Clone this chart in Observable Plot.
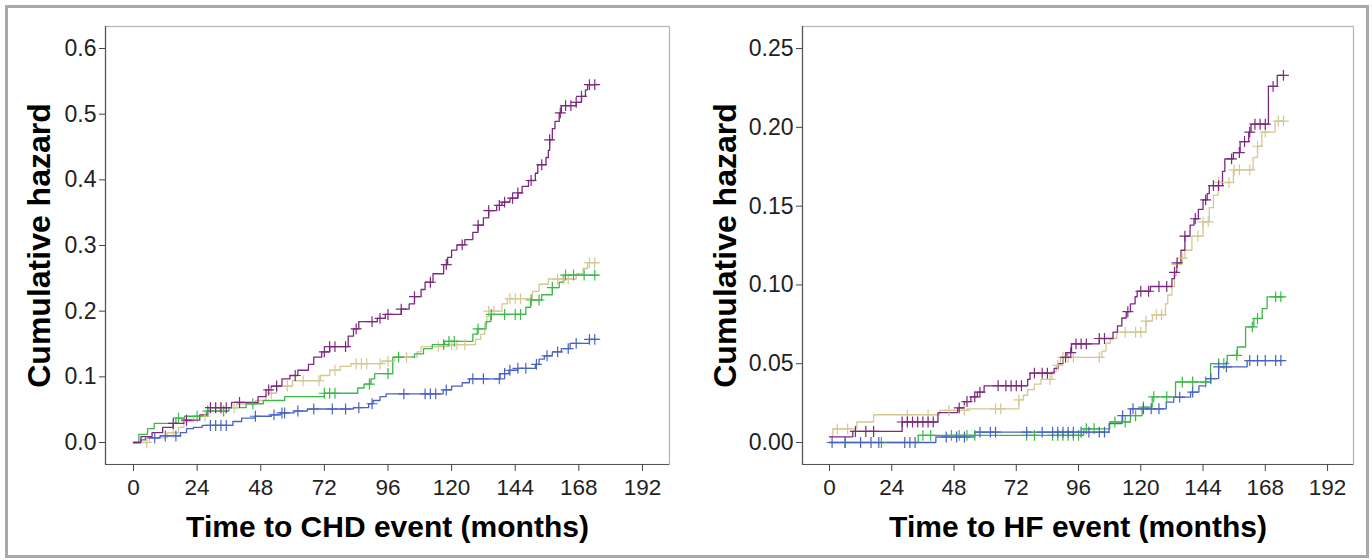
<!DOCTYPE html>
<html>
<head>
<meta charset="utf-8">
<script src="https://cdn.jsdelivr.net/npm/d3@7"></script>
<script src="https://cdn.jsdelivr.net/npm/@observablehq/plot@0.6"></script>
<style>
  html, body { margin: 0; padding: 0; background: #fff; }
  #wrap { position: relative; width: 1372px; height: 560px; overflow: hidden; background: #fff; }
  #border { position: absolute; left: 5px; top: 5px; width: 1364px; height: 553px; box-sizing: border-box; border: 3px solid #a8a8a8; }
  #left, #right { position: absolute; top: 0; }
  #left { left: 0; }
  #right { left: 686px; }
</style>
</head>
<body>
<div id="wrap">
  <div id="border"></div>
  <div id="left"></div>
  <div id="right"></div>
</div>
<script>
// ---------- tick labels ----------
const xTicks = [0, 24, 48, 72, 96, 120, 144, 168, 192];
const chdYTicks = [0, 0.1, 0.2, 0.3, 0.4, 0.5, 0.6];
const hfYTicks = [0, 0.05, 0.10, 0.15, 0.20, 0.25];
const endTime = 175;

// ---------- groups and their colours ----------
const groups = ["Group 1", "Group 2", "Group 3", "Group 4"];   // purple, tan, green, blue
const groupColors = ["#7b2a7e", "#d4c894", "#3cb84a", "#4a63c2"];

// ---------- CHD panel: step times / cumulative hazard / censor times ----------
const chdPurpleT = [0,2.8,7,11,15,19,25,28,37,47,50,52,56,59,62,66,68,71,74,81,83,85,92,95,101,104,106,108.5,110,113,117,118.5,120,122,125,128,130,132,134,137,139,142,145,146.6,149,151.6,152.5,155.6,156.5,157,158,159,160.6,161.4,167,169,170.5,171.3];
const chdPurpleH = [0,0.009,0.015,0.023,0.029,0.034,0.042,0.053,0.061,0.07,0.08,0.086,0.097,0.102,0.11,0.119,0.13,0.138,0.146,0.162,0.173,0.184,0.189,0.195,0.203,0.211,0.222,0.233,0.244,0.257,0.271,0.282,0.293,0.301,0.309,0.32,0.331,0.342,0.353,0.361,0.366,0.372,0.38,0.39,0.399,0.41,0.423,0.434,0.445,0.461,0.478,0.489,0.502,0.513,0.518,0.527,0.537,0.545];
const chdPurpleC = [15,20,29,31,33,35,40,51,54,61,72,74,76,80,84,90,93,96,101,106,112,118,124,130,134,138,140,143,145,150,154,157,161,163,165,167,169,172,174];

const chdTanT = [0,6,12.7,17,19,22.6,27.6,32.5,39,46,50,54,60,70.5,74,78,82,93.7,98.6,107,108.5,118.5,129,131,132.5,133.3,134,139,141,150.5,153,156.5,167,169.6,171.3];
const chdTanH = [0,0.007,0.015,0.023,0.032,0.04,0.048,0.053,0.059,0.064,0.075,0.086,0.094,0.102,0.11,0.116,0.12,0.124,0.13,0.138,0.146,0.149,0.157,0.165,0.181,0.192,0.2,0.211,0.219,0.23,0.241,0.249,0.257,0.265,0.274];
const chdTanC = [5,15,20,27,33,38,52,58,64,70,76,84,86,88,93,96,103,115,120,122,125,134,136,142,144,146,160,162,164,172,174];

const chdGreenT = [0,2,5.3,7.8,16,19.3,27.6,36,42.5,49,57,72,84.6,87,89.6,91,97.8,106,109.4,112.7,117.4,128,129.7,133,134.8,148,149.8,154,158,160.6,162.3];
const chdGreenH = [0,0.0125,0.021,0.029,0.037,0.04,0.048,0.053,0.059,0.064,0.07,0.075,0.083,0.089,0.097,0.105,0.13,0.135,0.143,0.149,0.154,0.165,0.173,0.184,0.195,0.206,0.217,0.225,0.236,0.244,0.255];
const chdGreenC = [17,24,28,34,45,72,74,76,89,96,100,117,119,121,130,135,140,144,146,150,153,158,163,166,170,174];

const chdBlueT = [0,2.8,4.5,10,17.7,20,22.6,25.9,37.5,40.8,45.8,52,55.6,60.6,65.6,83,88.7,90.4,93,95.3,116.8,120,124,126.7,138.3,141.6,145,151.6,153,155,158,161.4,164.7,172];
const chdBlueH = [0,0.004,0.007,0.01,0.015,0.021,0.023,0.026,0.032,0.037,0.04,0.042,0.045,0.048,0.051,0.053,0.059,0.064,0.07,0.074,0.08,0.086,0.091,0.097,0.105,0.11,0.113,0.119,0.127,0.132,0.138,0.143,0.151,0.157];
const chdBlueC = [8,12,16,29,31,33,35,46,53,56,57,62,68,75,80,85,90,102,110,112,114,118,128,132,138,140,142,145,148,152,156,160,164,167,172,174];

// ---------- HF panel ----------
const hfPurpleT = [0,9,28,41.8,49.4,52,54.5,57,59.6,76.4,77.3,86.6,88.2,90,91.6,93.3,104,109.3,111,112.7,114.4,116,117.8,118.6,123.7,132,133,133.8,135.5,137,139,140.5,142.2,144,145.6,146.4,151.5,152.4,155.7,158.3,161.6,162.5,169.2,172.6];
const hfPurpleH = [0.0036,0.007,0.013,0.019,0.022,0.026,0.029,0.032,0.036,0.04,0.044,0.047,0.05,0.054,0.057,0.0626,0.066,0.07,0.074,0.079,0.083,0.088,0.0925,0.096,0.099,0.104,0.108,0.114,0.122,0.131,0.138,0.142,0.148,0.154,0.158,0.163,0.172,0.18,0.184,0.191,0.197,0.202,0.226,0.233];
const hfPurpleC = [10,14,17,28,30,32,34,36,38,40,50,53,56,58,65,68,70,72,74,79,82,84,91,93,95,97,99,104,106,115,120,123,127,130,133,134,137,141,145,148,150,155,158,160,162,164,166,168,171,175];

const hfTanT = [0,1.3,10.5,17,42.5,53,73,74.7,76.4,79,81.5,85.7,87.4,89,105,106.6,108.3,110.8,122,124.5,129.5,130.4,132,133,133.8,135.5,137,139.7,144,146.4,148,149.8,155.7,163.3,165,166.7,171.8];
const hfTanH = [0.0036,0.0086,0.013,0.0176,0.0204,0.0214,0.027,0.03,0.0335,0.037,0.04,0.045,0.049,0.054,0.058,0.063,0.066,0.07,0.077,0.081,0.088,0.0936,0.099,0.106,0.113,0.117,0.122,0.131,0.14,0.149,0.157,0.165,0.173,0.181,0.188,0.197,0.204];
const hfTanC = [3,7,30,38,46,52,64,66,73,85,88,90,92,94,104,114,118,120,122,126,128,134,136,142,144,146,150,154,156,158,162,165,168,173,175];

const hfGreenT = [0,34.2,98,108,116,120.5,124.4,133.4,146.9,153.3,157.2,160.4,163.6,166.8,168.7];
const hfGreenH = [0,0.0045,0.0087,0.013,0.017,0.0225,0.029,0.0384,0.05,0.0553,0.0606,0.0734,0.0787,0.085,0.0924];
const hfGreenC = [6,20,36,39,47,50,53,56,76,79,86,88,90,92,94,96,99,102,110,114,118,121,125,130,136,140,145,150,152,157,163,165,172,174];

const hfBlueT = [0,41,56,107.8,112.8,116,129.8,132.7,139.2,142.4,145,150,161];
const hfBlueH = [0,0.0035,0.0066,0.012,0.017,0.0214,0.0256,0.0288,0.032,0.036,0.0405,0.048,0.052];
const hfBlueC = [1,6,12,16,19,29,31,33,45,49,52,58,62,64,76,82,86,88,90,92,94,97,100,104,106,113,117,121,124,127,135,140,147,150,153,162,165,168,172,174];

// ---------- helpers ----------
function stepRows(T, H, group) {
  const rows = T.map((t, i) => ({t, h: H[i], group}));
  rows.push({t: endTime, h: H[H.length - 1], group});
  return rows;
}
function censorRows(T, H, C, group) {
  return C.map(t => ({t, h: H[Math.max(0, d3.bisectRight(T, t) - 1)], group}));
}

const FONT = "'Liberation Sans', Arial, Helvetica, sans-serif";

function panel({series, yTicks, yFmt, xDomain, yDomain, marginLeft, marginRight, yTitle, xTitle, yTitleDx}) {
  const lines = series.flatMap(s => stepRows(s.T, s.H, s.group));
  const cens = series.flatMap(s => censorRows(s.T, s.H, s.C, s.group));
  return Plot.plot({
    width: 686,
    height: 560,
    marginLeft,
    marginRight,
    marginTop: 26,
    marginBottom: 96,
    style: {fontFamily: FONT, background: "transparent", color: "#222"},
    x: {domain: xDomain, axis: null},
    y: {domain: yDomain, axis: null},
    color: {type: "ordinal", domain: groups, range: groupColors},
    marks: [
      Plot.frame({stroke: "#b4b4b4", strokeWidth: 1.2}),
      Plot.line(lines, {x: "t", y: "h", z: "group", stroke: "group", curve: "step-after", strokeWidth: 1.3}),
      Plot.dot(cens, {x: "t", y: "h", stroke: "group", symbol: "plus", r: 3.6, strokeWidth: 1.2}),
      Plot.ruleX([xDomain[0]], {stroke: "#555", strokeWidth: 1.2}),
      Plot.ruleY([yDomain[0]], {stroke: "#555", strokeWidth: 1.2}),
      Plot.axisX({ticks: xTicks, tickSize: 7, tickPadding: 8, fontSize: 22.5, stroke: "#444", fill: "#222", label: null}),
      Plot.axisY({ticks: yTicks, tickFormat: yFmt, tickSize: 6, tickPadding: 3, fontSize: 23, stroke: "#444", fill: "#222", label: null}),
      Plot.text([yTitle], {frameAnchor: "left", rotate: -90, dx: yTitleDx, fontSize: 32, fontWeight: "bold", fill: "#000", textAnchor: "middle", lineAnchor: "middle"}),
      Plot.text([xTitle], {frameAnchor: "bottom", dy: 63, fontSize: 30, fontWeight: "bold", fill: "#000", textAnchor: "middle", lineAnchor: "middle"})
    ]
  });
}

document.getElementById("left").appendChild(panel({
  series: [
    {T: chdTanT, H: chdTanH, C: chdTanC, group: "Group 2"},
    {T: chdGreenT, H: chdGreenH, C: chdGreenC, group: "Group 3"},
    {T: chdBlueT, H: chdBlueH, C: chdBlueC, group: "Group 4"},
    {T: chdPurpleT, H: chdPurpleH, C: chdPurpleC, group: "Group 1"}
  ],
  yTicks: chdYTicks,
  yFmt: d => d.toFixed(1),
  xDomain: [-10.56, 202.2],
  yDomain: [-0.0335, 0.6335],
  marginLeft: 105,
  marginRight: 17,
  yTitle: "Cumulative hazard",
  xTitle: "Time to CHD event (months)",
  yTitleDx: -66
}));

document.getElementById("right").appendChild(panel({
  series: [
    {T: hfTanT, H: hfTanH, C: hfTanC, group: "Group 2"},
    {T: hfGreenT, H: hfGreenH, C: hfGreenC, group: "Group 3"},
    {T: hfBlueT, H: hfBlueH, C: hfBlueC, group: "Group 4"},
    {T: hfPurpleT, H: hfPurpleH, C: hfPurpleC, group: "Group 1"}
  ],
  yTicks: hfYTicks,
  yFmt: d => d.toFixed(2),
  xDomain: [-10.41, 202.0],
  yDomain: [-0.01396, 0.264],
  marginLeft: 116,
  marginRight: 19,
  yTitle: "Cumulative hazard",
  xTitle: "Time to HF event (months)",
  yTitleDx: -77
}));
</script>
</body>
</html>
